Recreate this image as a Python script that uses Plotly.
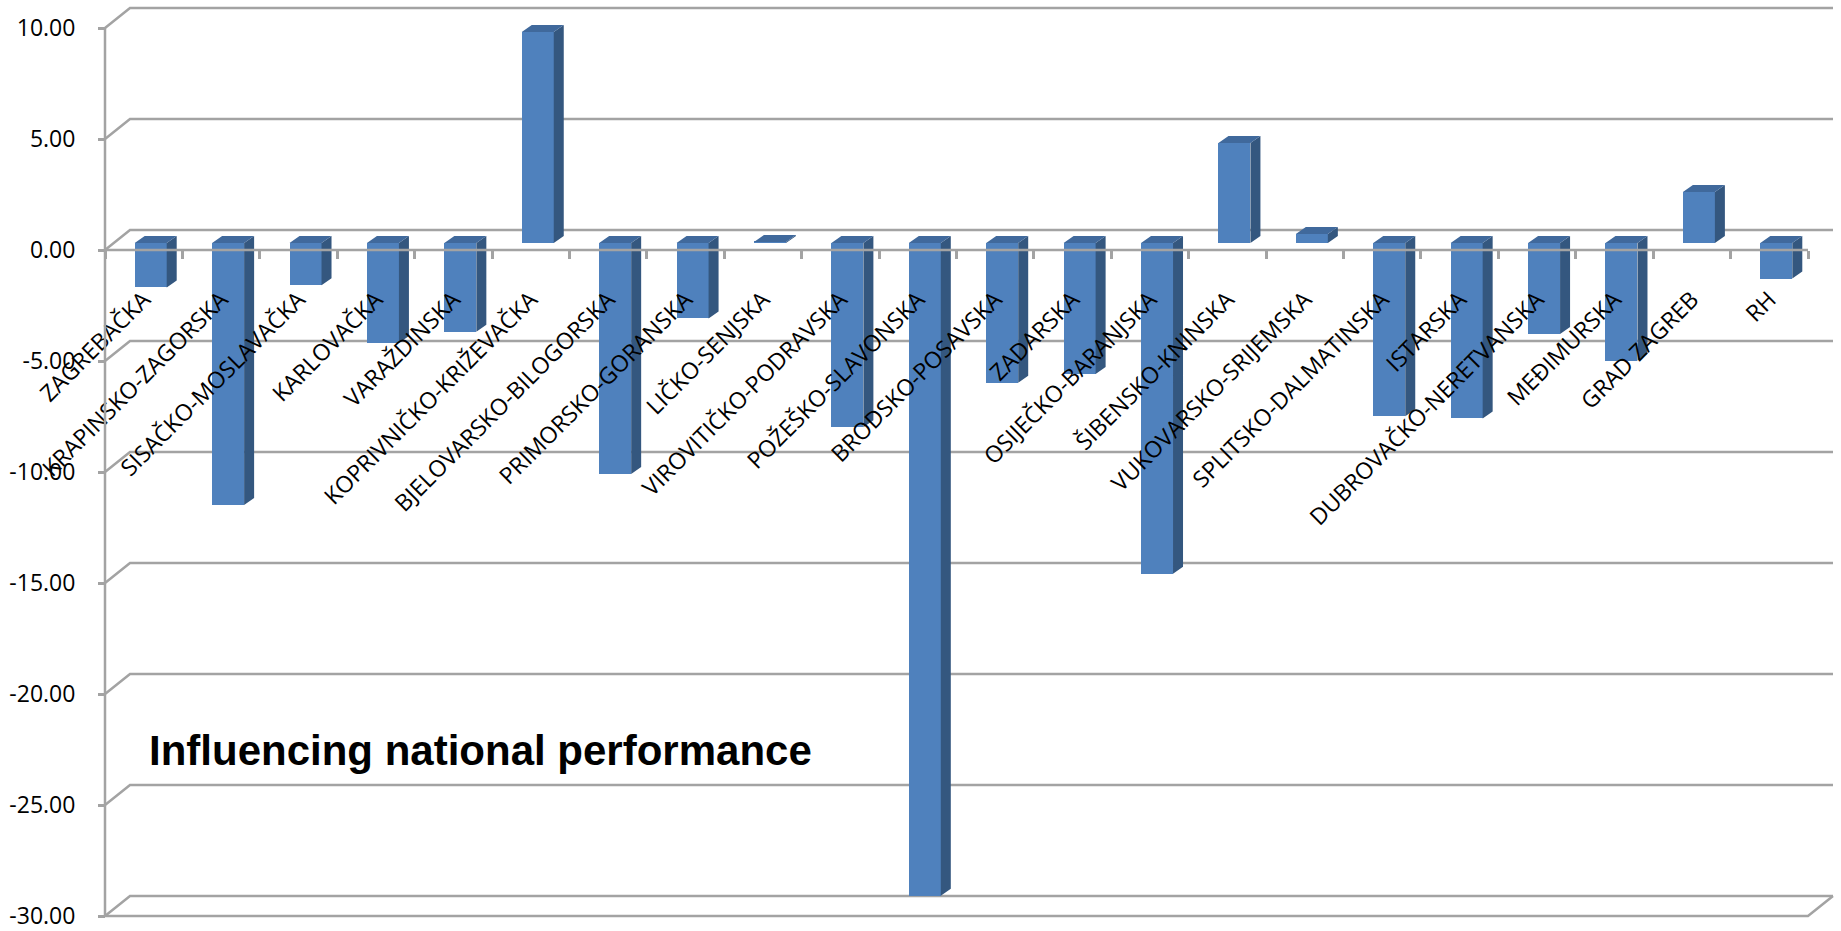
import plotly.graph_objects as go

# ---------------- data ----------------
categories = [
    "ZAGREBAČKA", "KRAPINSKO-ZAGORSKA", "SISAČKO-MOSLAVAČKA", "KARLOVAČKA",
    "VARAŽDINSKA", "KOPRIVNIČKO-KRIŽEVAČKA", "BJELOVARSKO-BILOGORSKA",
    "PRIMORSKO-GORANSKA", "LIČKO-SENJSKA", "VIROVITIČKO-PODRAVSKA",
    "POŽEŠKO-SLAVONSKA", "BRODSKO-POSAVSKA", "ZADARSKA", "OSIJEČKO-BARANJSKA",
    "ŠIBENSKO-KNINSKA", "VUKOVARSKO-SRIJEMSKA", "SPLITSKO-DALMATINSKA",
    "ISTARSKA", "DUBROVAČKO-NERETVANSKA", "MEĐIMURSKA", "GRAD ZAGREB", "RH",
]
values = [
    -2.0, -11.8, -1.9, -4.5, -4.0, 9.5, -10.4, -3.4, 0.05, -8.3, -29.4,
    -6.3, -5.9, -14.9, 4.5, 0.4, -7.8, -7.9, -4.1, -5.3, 2.3, -1.6,
]
y_ticks = [-30, -25, -20, -15, -10, -5, 0, 5, 10]
y_tick_labels = ["%.2f" % v for v in y_ticks]
annotation_text = "Influencing national performance"

# ---------------- geometry (pixels -> axis ranges) ----------------
W, H = 1841, 931
n = len(categories)
x_left_px, x_right_px = 105, 1808          # front category axis ends
y_top_px, y_bot_px = 28, 916               # front value axis (10 .. -30)
ymin_v, ymax_v = min(y_ticks), max(y_ticks)
sx = (x_right_px - x_left_px) / n
sy = (y_bot_px - y_top_px) / (ymax_v - ymin_v)
x0_cat = -0.5
xr = [x0_cat - x_left_px / sx, x0_cat + (W - x_left_px) / sx]
yr = [ymax_v - (H - y_top_px) / sy, ymax_v + y_top_px / sy]

# depth of the back wall and of the bars (in axis units)
wall_dx, wall_dy = 25 / sx, 20 / sy
bar_ox, bar_oy = 7 / sx, 7 / sy
bar_dx, bar_dy = 10 / sx, 7 / sy
bar_w = 32 / sx

GRID = "#a3a3a3"
FRONT = "#4f81bd"
SIDE = "#34577f"
TOP = "#40699c"

fig = go.Figure()

# ---------- back wall gridlines, side-wall connectors and floor ----------
gx, gy = [], []
xa, xb = x0_cat, x0_cat + n
for v in y_ticks:
    gx += [xa, xa + wall_dx, xb + wall_dx, None]
    gy += [v, v + wall_dy, v + wall_dy, None]
gx += [xa, xb, xb + wall_dx, None]
gy += [ymin_v, ymin_v, ymin_v + wall_dy, None]
fig.add_trace(go.Scatter(x=gx, y=gy, mode="lines",
                         line=dict(color=GRID, width=2.5),
                         hoverinfo="skip", showlegend=False,
                         xaxis="x", yaxis="y"))

# ---------- 3D bars (bar plane axes x3/y3) ----------
idx = list(range(n))
fig.add_trace(go.Bar(x=idx, y=values, width=bar_w,
                     marker=dict(color=FRONT, line=dict(width=0)),
                     showlegend=False, xaxis="x3", yaxis="y3",
                     hovertext=categories, hoverinfo="text+y"))

sxs, sys_ = [], []
txs, tys = [], []
for i, v in zip(idx, values):
    lo, hi = min(v, 0), max(v, 0)
    r = i + bar_w / 2
    l = i - bar_w / 2
    sxs += [r, r + bar_dx, r + bar_dx, r, r, None]
    sys_ += [lo, lo + bar_dy, hi + bar_dy, hi, lo, None]
    txs += [l, r, r + bar_dx, l + bar_dx, l, None]
    tys += [hi, hi, hi + bar_dy, hi + bar_dy, hi, None]
fig.add_trace(go.Scatter(x=sxs, y=sys_, mode="lines", fill="toself",
                         fillcolor=SIDE, line=dict(width=0, color=SIDE),
                         hoverinfo="skip", showlegend=False,
                         xaxis="x3", yaxis="y3"))
fig.add_trace(go.Scatter(x=txs, y=tys, mode="lines", fill="toself",
                         fillcolor=TOP, line=dict(width=0, color=TOP),
                         hoverinfo="skip", showlegend=False,
                         xaxis="x3", yaxis="y3"))

# dummy trace for label axis
fig.add_trace(go.Scatter(x=idx, y=[0] * n, mode="markers",
                         marker=dict(opacity=0), hoverinfo="skip",
                         showlegend=False, xaxis="x2", yaxis="y"))

# ---------- front axis lines (above bars) ----------
fig.add_shape(type="line", xref="x", yref="y", x0=xa, x1=xa,
              y0=ymin_v, y1=ymax_v, line=dict(color=GRID, width=2.5),
              layer="above")
fig.add_shape(type="line", xref="x", yref="y", x0=xa, x1=xb,
              y0=0, y1=0, line=dict(color=GRID, width=2.5), layer="above")

zero_pos = (0 - yr[0]) / (yr[1] - yr[0])
left_pos = (x0_cat - xr[0]) / (xr[1] - xr[0])

label_font = dict(family="Open Sans, sans-serif", size=23, color="black")

fig.update_layout(
    width=W, height=H,
    margin=dict(l=0, r=0, t=0, b=0),
    paper_bgcolor="white", plot_bgcolor="rgba(0,0,0,0)",
    showlegend=False, bargap=0,
    xaxis=dict(domain=[0, 1], range=xr, anchor="free", position=zero_pos,
               showgrid=False, zeroline=False, showline=False,
               tickmode="array",
               tickvals=[x0_cat + k for k in range(n + 1)],
               ticks="outside", ticklen=8, tickwidth=2.5, tickcolor=GRID,
               showticklabels=False, fixedrange=True),
    xaxis2=dict(overlaying="x", range=xr, anchor="free", position=zero_pos,
                showgrid=False, zeroline=False, showline=False,
                tickmode="array", tickvals=idx, ticktext=categories,
                tickangle=-45, ticks="outside", ticklen=8,
                tickcolor="rgba(0,0,0,0)", ticklabelstandoff=18,
                ticklabeloverflow="allow",
                tickfont=label_font, fixedrange=True),
    yaxis=dict(domain=[0, 1], range=yr, anchor="free", position=left_pos,
               showgrid=False, zeroline=False, showline=False,
               tickmode="array", tickvals=y_ticks, ticktext=y_tick_labels,
               ticks="outside", ticklen=7, tickwidth=2.5, tickcolor=GRID,
               ticklabelstandoff=18, ticklabeloverflow="allow",
               tickfont=dict(family="Open Sans, sans-serif", size=23,
                             color="black"),
               fixedrange=True),
    xaxis3=dict(overlaying="x", range=[xr[0] - bar_ox, xr[1] - bar_ox],
                visible=False, fixedrange=True),
    yaxis3=dict(overlaying="y", range=[yr[0] - bar_oy, yr[1] - bar_oy],
                visible=False, fixedrange=True),
    annotations=[dict(text=annotation_text, xref="paper", yref="paper",
                      x=147 / W, y=1 - 750 / H, xanchor="left",
                      yanchor="middle", showarrow=False,
                      font=dict(family="Liberation Sans, Arial, sans-serif",
                                size=42, color="black", weight="bold"))],
)

fig.write_html("out.html")
